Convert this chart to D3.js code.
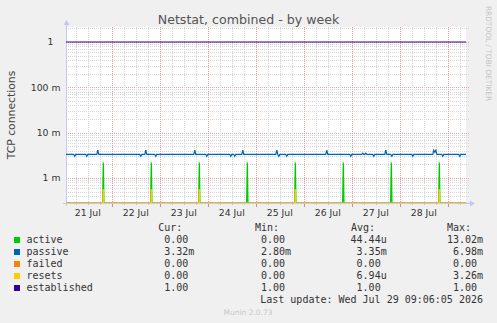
<!DOCTYPE html>
<html>
<head>
<meta charset="utf-8">
<script src="https://cdn.jsdelivr.net/npm/d3@7"></script>
<style>
  body { margin: 0; background: #f0f0f0; }
  svg { display: block; }
  text { font-family: "DejaVu Sans", sans-serif; fill: #333; }
  .mono { font-family: "DejaVu Sans Mono", monospace; font-size: 10px; }
</style>
</head>
<body>
<svg id="chart" width="497" height="323"></svg>
<script>
// time window shown (last update minus 200 hours)
const timeStart = "2026-07-21T01:06:05";
const timeEnd = "2026-07-29T09:06:05";

const dayLabels = ["21 Jul", "22 Jul", "23 Jul", "24 Jul", "25 Jul", "26 Jul", "27 Jul", "28 Jul"];
const dayNoons = ["2026-07-21T12:00", "2026-07-22T12:00", "2026-07-23T12:00", "2026-07-24T12:00",
                  "2026-07-25T12:00", "2026-07-26T12:00", "2026-07-27T12:00", "2026-07-28T12:00"];

const yTickValues = [1, 0.1, 0.01, 0.001];
const yTickLabels = ["1", "100 m", "10 m", "1 m"];

// daily spikes (30 min slot of the peak)
const spikeTimes = ["2026-07-21T19:45", "2026-07-22T19:45", "2026-07-23T19:45", "2026-07-24T19:45",
                    "2026-07-25T19:45", "2026-07-26T19:45", "2026-07-27T19:45", "2026-07-28T19:45"];
const activePeaks = [0.0022, 0.0022, 0.0022, 0.0022, 0.0022, 0.0022, 0.0022, 0.0022];
const resetsPeaks = [0.00057, 0.00057, 0.00057, 0, 0.00057, 0, 0, 0.00057];

const establishedValue = 1;
const passiveBase = 0.0033;
const passiveEvents = [
  ["2026-07-21T05:30", 0.0030], ["2026-07-21T11:30", 0.0030], ["2026-07-21T17:00", 0.0041],
  ["2026-07-22T14:30", 0.0030], ["2026-07-22T17:00", 0.0041], ["2026-07-22T22:00", 0.0030],
  ["2026-07-23T17:30", 0.0041], ["2026-07-23T23:30", 0.0030],
  ["2026-07-24T11:30", 0.0030], ["2026-07-24T13:30", 0.0030], ["2026-07-24T17:30", 0.0041],
  ["2026-07-25T10:30", 0.0041], ["2026-07-25T11:30", 0.0030], ["2026-07-25T15:30", 0.0030],
  ["2026-07-26T11:30", 0.0041], ["2026-07-26T23:30", 0.0030],
  ["2026-07-27T05:30", 0.0035], ["2026-07-27T07:00", 0.0035], ["2026-07-27T11:00", 0.0030],
  ["2026-07-27T17:00", 0.0041], ["2026-07-27T20:00", 0.0030],
  ["2026-07-28T06:30", 0.0030], ["2026-07-28T17:00", 0.0041], ["2026-07-28T17:30", 0.0037],
  ["2026-07-28T18:00", 0.0041], ["2026-07-28T21:30", 0.0030],
  ["2026-07-29T06:00", 0.0030]
];

const legendNames = ["active", "passive", "failed", "resets", "established"];
const legendColors = ["#00cc00", "#0066b3", "#ff8000", "#ffcc00", "#330099"];
const legendCur = ["0.00", "3.32m", "0.00", "0.00", "1.00"];
const legendMin = ["0.00", "2.80m", "0.00", "0.00", "1.00"];
const legendAvg = ["44.44u", "3.35m", "0.00", "6.94u", "1.00"];
const legendMax = ["13.02m", "6.98m", "0.00", "3.26m", "1.00"];

const parse = d3.utcParse("%Y-%m-%dT%H:%M");
const parseS = d3.utcParse("%Y-%m-%dT%H:%M:%S");
const t0 = parseS(timeStart), t1 = parseS(timeEnd);
const halfHour = 30 * 60 * 1000;

const svg = d3.select("#chart"),
    plot = {left: 66, right: 466, top: 27, bottom: 203};

const x = d3.scaleUtc().domain([t0, t1]).range([plot.left, plot.right]);
const y = d3.scaleLog().domain([0.00028, 2.14]).range([plot.bottom, plot.top]).clamp(true);
const yv = function (v) { return v > 0 ? y(v) : plot.bottom; };
// zero on a log axis lies below the plot; spikes rise from there
const ySpike = function (v) { return v > 0 ? y(v) : plot.bottom + 25; };

svg.append("defs").append("clipPath").attr("id", "clip")
    .append("rect")
    .attr("x", plot.left).attr("y", plot.top - 2)
    .attr("width", plot.right - plot.left + 1).attr("height", plot.bottom - plot.top + 2);

svg.append("rect")
    .attr("x", plot.left).attr("y", plot.top)
    .attr("width", plot.right - plot.left).attr("height", plot.bottom - plot.top)
    .attr("fill", "#fff");

// horizontal grid
const hGrid = [];
[0.0001, 0.001, 0.01, 0.1, 1].forEach(function (d) {
    for (let k = 1; k <= 9; k++) {
        const v = k * d;
        if (v >= y.domain()[0] && v <= y.domain()[1]) hGrid.push({v: v, major: k === 1});
    }
});
svg.append("g").selectAll("line").data(hGrid).enter().append("line")
    .attr("x1", plot.left).attr("x2", plot.right + 3)
    .attr("y1", function (d) { return Math.round(y(d.v)) + 0.5; })
    .attr("y2", function (d) { return Math.round(y(d.v)) + 0.5; })
    .attr("stroke", function (d) { return d.major ? "#e8a0a0" : "#d6d6d6"; })
    .attr("stroke-dasharray", "1,1");

// vertical grid every 6 hours, red at midnight
const vGrid = d3.utcHour.every(6).range(t0, t1);
svg.append("g").selectAll("line").data(vGrid).enter().append("line")
    .attr("x1", function (d) { return Math.round(x(d)) + 0.5; })
    .attr("x2", function (d) { return Math.round(x(d)) + 0.5; })
    .attr("y1", plot.top).attr("y2", plot.bottom)
    .attr("stroke", function (d) { return d.getUTCHours() === 0 ? "#e8a0a0" : "#d6d6d6"; })
    .attr("stroke-dasharray", "1,1");

// axis ticks below the plot
svg.append("g").selectAll("line").data(vGrid).enter().append("line")
    .attr("x1", function (d) { return Math.round(x(d)) + 0.5; })
    .attr("x2", function (d) { return Math.round(x(d)) + 0.5; })
    .attr("y1", plot.bottom + 1)
    .attr("y2", function (d) { return plot.bottom + (d.getUTCHours() === 0 ? 4 : 2); })
    .attr("stroke", function (d) { return d.getUTCHours() === 0 ? "#e08080" : "#c8c8c8"; });

// axes with arrows
const axisColor = "#c4c8f0";
svg.append("line").attr("x1", plot.left - 3).attr("x2", plot.right + 4)
    .attr("y1", plot.bottom + 0.5).attr("y2", plot.bottom + 0.5).attr("stroke", axisColor);
svg.append("line").attr("x1", plot.left + 0.5).attr("x2", plot.left + 0.5)
    .attr("y1", plot.bottom + 3).attr("y2", plot.top - 3).attr("stroke", axisColor);
svg.append("path").attr("d", "M" + (plot.right + 4) + "," + (plot.bottom - 2.5) + "l5,3l-5,3z").attr("fill", axisColor);
svg.append("path").attr("d", "M" + (plot.left - 2.5) + "," + (plot.top - 2) + "l3,-5l3,5z").attr("fill", axisColor);

// series
const line = d3.line()
    .x(function (d) { return x(d[0]); })
    .y(function (d) { return yv(d[1]); });
const spikeLine = d3.line()
    .x(function (d) { return x(d[0]); })
    .y(function (d) { return ySpike(d[1]); });

function spikeSeries(peaks) {
    const pts = [];
    spikeTimes.forEach(function (s, i) {
        if (!peaks[i]) return;
        const t = parse(s);
        pts.push([new Date(+t - halfHour), 0]);
        pts.push([t, peaks[i]]);
        pts.push([new Date(+t + halfHour), 0]);
    });
    return pts;
}

const passivePts = [[t0, passiveBase]];
passiveEvents.forEach(function (e, i) {
    const t = parse(e[0]);
    const last = passivePts[passivePts.length - 1][0];
    if (+t - halfHour > +last) passivePts.push([new Date(+t - halfHour), passiveBase]);
    passivePts.push([t, e[1]]);
    const next = passiveEvents[i + 1];
    if (!next || +parse(next[0]) > +t + halfHour) passivePts.push([new Date(+t + halfHour), passiveBase]);
});
passivePts.push([t1, passiveBase]);

const g = svg.append("g").attr("clip-path", "url(#clip)");
function zeroLine(color) {
    g.append("path").datum([[t0, 0], [t1, 0]]).attr("d", line)
        .attr("fill", "none").attr("stroke", color).attr("stroke-width", 1.2);
}
function spikes(peaks, color) {
    g.append("path").datum(spikeSeries(peaks)).attr("d", spikeLine)
        .attr("fill", "none").attr("stroke", color).attr("stroke-width", 1.3);
}
zeroLine(legendColors[0]);
spikes(activePeaks, legendColors[0]);
g.append("path").datum(passivePts).attr("d", line)
    .attr("fill", "none").attr("stroke", legendColors[1]).attr("stroke-width", 1.2);
zeroLine(legendColors[2]);
zeroLine(legendColors[3]);
spikes(resetsPeaks, legendColors[3]);
g.append("path").datum([[t0, establishedValue], [t1, establishedValue]]).attr("d", line)
    .attr("fill", "none").attr("stroke", legendColors[4]).attr("stroke-width", 1.2);

// y tick labels
svg.append("g").selectAll("text").data(yTickValues).enter().append("text")
    .attr("x", function (d, i) { return yTickLabels[i].indexOf(" ") < 0 ? 53.5 : 60.5; })
    .attr("y", function (d) { return y(d) + 3.4; })
    .attr("text-anchor", "end").style("font-size", "9.3px")
    .text(function (d, i) { return yTickLabels[i]; });

// x tick labels at noon
svg.append("g").selectAll("text").data(dayNoons).enter().append("text")
    .attr("x", function (d) { return x(parse(d)); })
    .attr("y", 216)
    .attr("text-anchor", "middle").style("font-size", "9.3px")
    .text(function (d, i) { return dayLabels[i]; });

// titles
svg.append("text").attr("x", 248.5).attr("y", 23.5).attr("text-anchor", "middle")
    .style("font-size", "12.6px").style("fill", "#555")
    .text("Netstat, combined - by week");
svg.append("text").attr("transform", "translate(15,115) rotate(-90)").attr("text-anchor", "middle")
    .style("font-size", "10.8px").style("fill", "#444")
    .text("TCP connections");
svg.append("text").attr("transform", "translate(486,53.5) rotate(90)").attr("text-anchor", "middle")
    .style("font-size", "7.4px").style("fill", "#c4c4c4")
    .text("RRDTOOL / TOBI OETIKER");

// legend
const charW = 6.02;
const cols = [
    {head: "Cur:", hx: 158.3, right: 194.3, vals: legendCur},
    {head: "Min:", hx: 255, right: 291, vals: legendMin},
    {head: "Avg:", hx: 351, right: 386.7, vals: legendAvg},
    {head: "Max:", hx: 447, right: 483, vals: legendMax}
];
const leg = svg.append("g").attr("class", "legend");
cols.forEach(function (c) {
    leg.append("text").attr("class", "mono").attr("x", c.hx).attr("y", 231).text(c.head);
    leg.selectAll(null).data(c.vals).enter().append("text")
        .attr("class", "mono")
        .attr("text-anchor", "end")
        .attr("x", function (v) { return /[a-z]$/.test(v) ? c.right : c.right - charW; })
        .attr("y", function (v, i) { return 243 + i * 12; })
        .text(function (v) { return v; });
});
leg.selectAll("rect").data(legendNames).enter().append("rect")
    .attr("x", 14).attr("y", function (d, i) { return 237 + i * 12; })
    .attr("width", 6).attr("height", 6)
    .attr("fill", function (d, i) { return legendColors[i]; });
leg.selectAll("text.name").data(legendNames).enter().append("text")
    .attr("class", "mono name").attr("x", 26.5)
    .attr("y", function (d, i) { return 243 + i * 12; })
    .text(function (d) { return d; });
leg.append("text").attr("class", "mono").attr("x", 483).attr("y", 303).attr("text-anchor", "end")
    .text("Last update: Wed Jul 29 09:06:05 2026");

svg.append("text").attr("x", 248).attr("y", 315).attr("text-anchor", "middle")
    .style("font-size", "7.5px").style("fill", "#c8c8c8")
    .text("Munin 2.0.73");
</script>
</body>
</html>
